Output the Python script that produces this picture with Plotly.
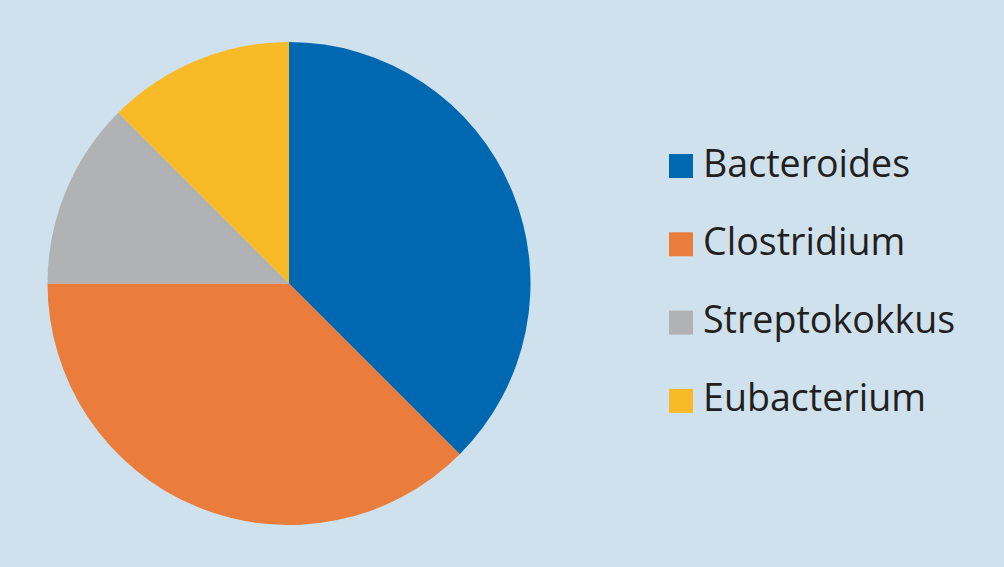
import plotly.graph_objects as go

labels = ["Bacteroides", "Clostridium", "Streptokokkus", "Eubacterium"]
values = [37.5, 37.5, 12.5, 12.5]
colors = ["#0067b1", "#ea7d3b", "#b1b2b3", "#f9ba28"]

W, H = 1004, 567
bg = "#cfe1ed"

fig = go.Figure(go.Pie(
    labels=labels, values=values, sort=False, direction="clockwise", rotation=0,
    marker=dict(colors=colors, line=dict(width=0)),
    textinfo="none", hoverinfo="label+percent",
    domain=dict(x=[47.5 / W, 530.5 / W], y=[(H - 525) / H, (H - 42) / H]),
    showlegend=False,
))

# manual legend
y0, step, sq = 166, 78.3, 24
shapes, annots = [], []
for i, (lab, col) in enumerate(zip(labels, colors)):
    yc = y0 + i * step
    shapes.append(dict(type="rect", xref="paper", yref="paper",
                       x0=669 / W, x1=693 / W,
                       y0=(H - (yc + sq / 2)) / H, y1=(H - (yc - sq / 2)) / H,
                       fillcolor=col, line=dict(width=0)))
    annots.append(dict(text=lab, xref="paper", yref="paper", x=701 / W, y=(H - (yc - 4)) / H,
                       xanchor="left", yanchor="middle", showarrow=False,
                       font=dict(family="Open Sans", size=37.6, color="#231f20")))

fig.update_layout(
    width=W, height=H, margin=dict(l=0, r=0, t=0, b=0),
    paper_bgcolor=bg, plot_bgcolor=bg,
    shapes=shapes, annotations=annots,
)
fig.write_html(
    "out.html",
    config={"displayModeBar": False},
    post_script="document.body.style.margin='0';document.body.style.background='%s';"
                "document.body.style.overflow='hidden';" % bg,
)
